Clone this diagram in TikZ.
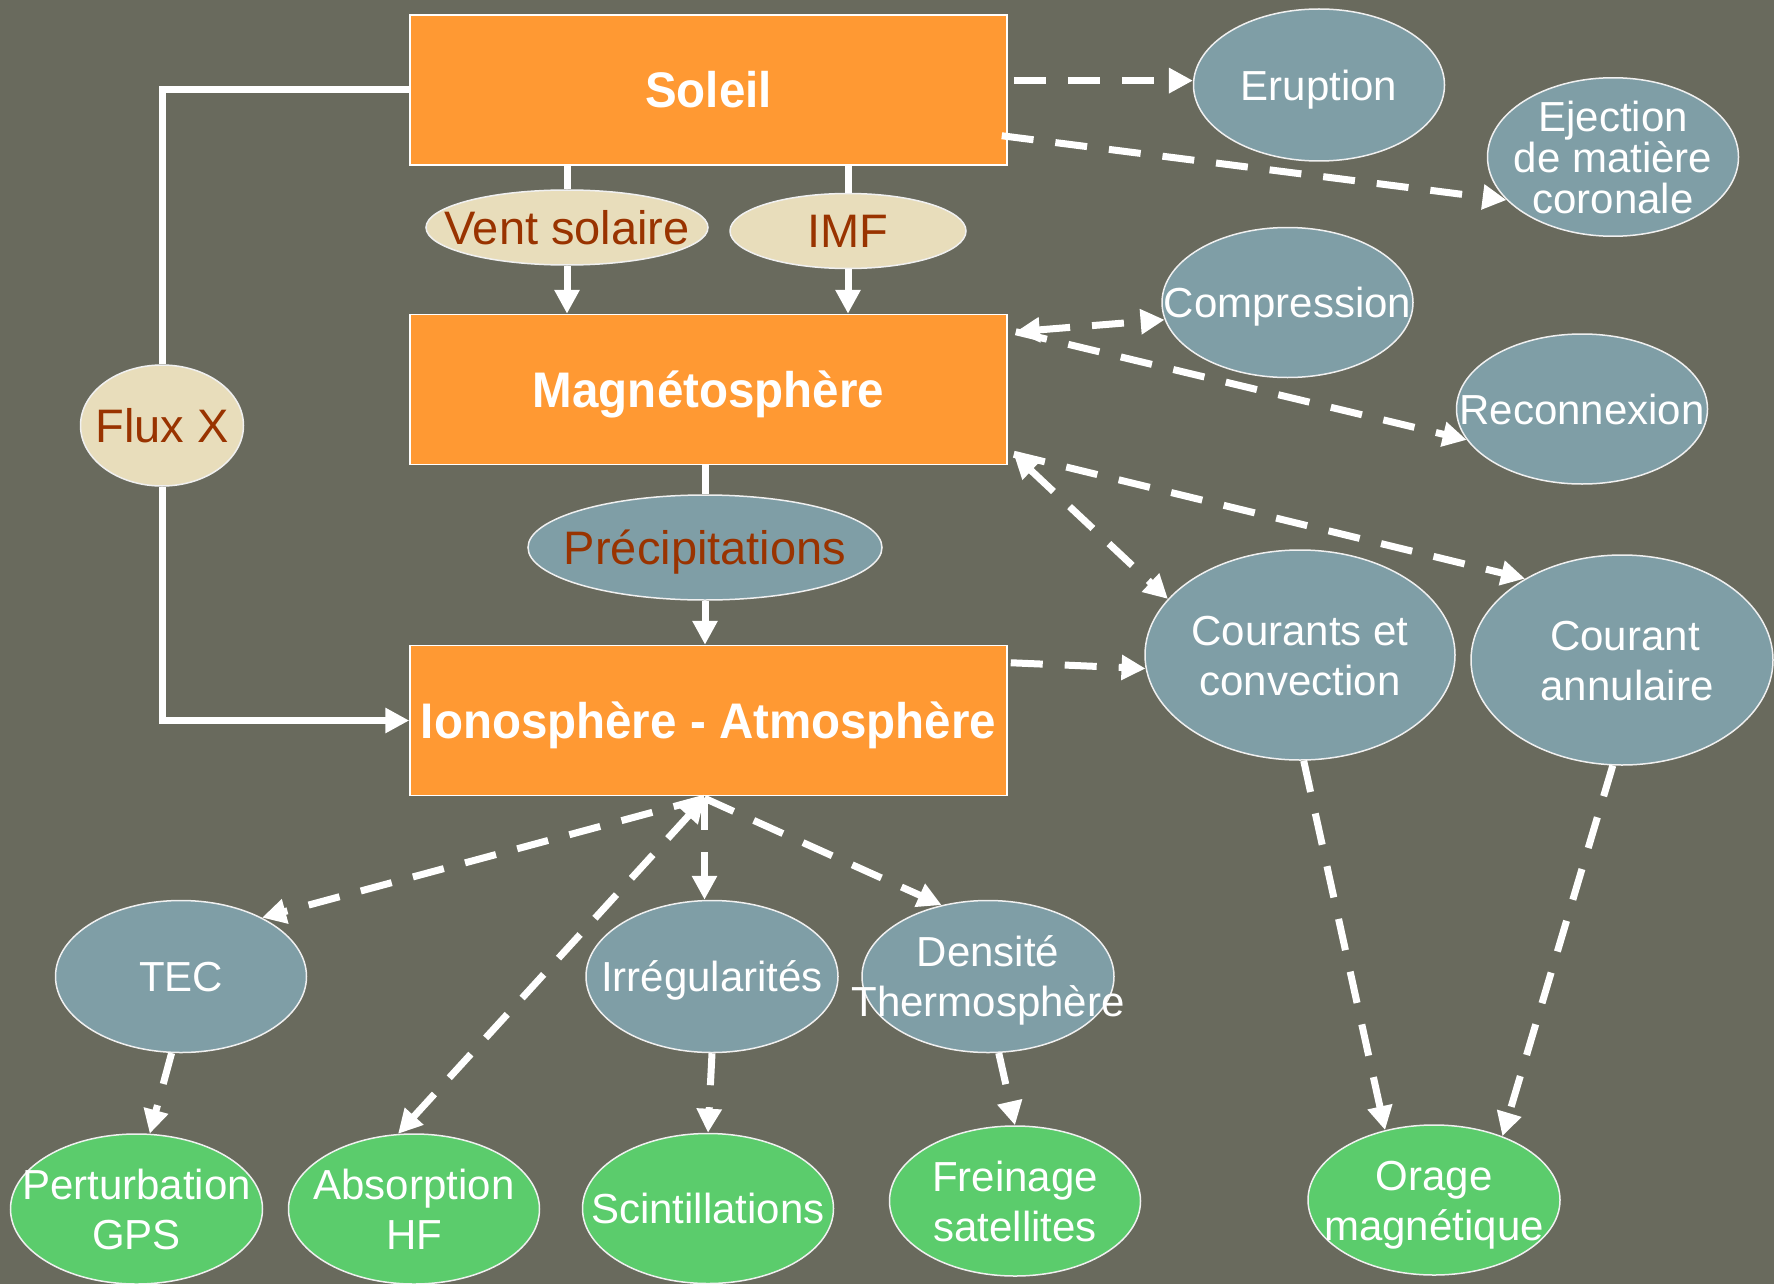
\documentclass[tikz,border=0pt]{standalone}
\usepackage{fontspec}
\usepackage{graphicx}
\setmainfont{Liberation Sans}
\usetikzlibrary{shapes.geometric,arrows.meta,calc}
\definecolor{bgc}{RGB}{105,106,93}
\definecolor{orgc}{RGB}{255,153,51}
\definecolor{tanc}{RGB}{232,221,187}
\definecolor{brownc}{RGB}{153,51,0}
\definecolor{bluec}{RGB}{127,158,166}
\definecolor{greenc}{RGB}{91,204,108}
\newcommand{\zb}[1]{\makebox[0pt]{\raisebox{0pt}[0.716em][0pt]{#1}}}
\newcommand{\sq}[1]{\scalebox{0.95}[1]{\raisebox{0pt}[0.716em][0pt]{#1}}}
\begin{document}
\begin{tikzpicture}[x=1pt,y=-1pt,
  >={Triangle[length=24pt,width=24pt]},
  box/.style={rectangle,draw=white,line width=1.5pt,fill=orgc,minimum width=597pt,minimum height=150pt,inner sep=0pt,text=white,font=\fontsize{50}{60}\selectfont\bfseries},
  ell/.style={ellipse,draw=white!88!gray,line width=1.5pt,inner sep=0pt,align=center},
  tanell/.style={ell,fill=tanc,text=brownc,font=\fontsize{47}{56}\selectfont},
  blueell/.style={ell,fill=bluec,text=white,font=\fontsize{42}{50}\selectfont},
  greenell/.style={ell,fill=greenc,text=white,font=\fontsize{42}{50}\selectfont},
  sz/.style 2 args={minimum width=#1pt,minimum height=#2pt},
  conn/.style={draw=white,line width=7pt},
  dconn/.style={conn,dash pattern=on 32pt off 22pt}
]
\fill[bgc] (0,0) rectangle (1774,1284);
\useasboundingbox (0,0) rectangle (1774,1284);

% main boxes
\node[box] (soleil) at (708.5,90) {\sq{Soleil}};
\node[box] (magneto) at (708.5,389.5) {\sq{Magnétosphère}};
\node[box] (iono) at (708.5,720.5) {\sq{Ionosphère - Atmosphère}};

% tan / brown-text ellipses
\node[tanell,sz={282}{75}] (vent) at (567,227.5) {\zb{Vent solaire}};
\node[tanell,sz={236}{75}] (imf) at (848,231) {\zb{IMF}};
\node[tanell,sz={163}{121}] (fluxx) at (162,425.5) {\zb{Flux X}};
\node[ell,fill=bluec,text=brownc,font=\fontsize{47}{56}\selectfont,sz={354}{105}] (precip) at (705,547.5) {\zb{Précipitations}};

% blue ellipses
\node[blueell,sz={251}{152}] (eruption) at (1319,85) {\zb{Eruption}};
\node[blueell,sz={251}{152},font=\fontsize{42}{41}\selectfont] (ejection) at (1613,157) {\zb{Ejection}\\\zb{de matière}\\\zb{coronale}};
\node[blueell,sz={251}{150}] (compression) at (1287.5,302.5) {\zb{Compression}};
\node[blueell,sz={251}{150}] (reconnexion) at (1582,409) {\zb{Reconnexion}};
\node[blueell,sz={310}{210}] (courants) at (1300,655) {\zb{Courants et}\\\zb{convection}};
\node[blueell,sz={302}{210}] (annulaire) at (1622,660) {\zb{\hspace{6pt}Courant}\\\zb{\hspace{10pt}annulaire}};
\node[blueell,sz={251}{152}] (tec) at (181,976.5) {\zb{TEC}};
\node[blueell,sz={252}{152}] (irreg) at (712,976.5) {\zb{Irrégularités}};
\node[blueell,sz={252}{152}] (dens) at (988,976.5) {\zb{Densité}\\\zb{Thermosphère}};

% green ellipses
\node[greenell,sz={252}{150}] (gps) at (136.5,1209) {\zb{Perturbation}\\\zb{GPS}};
\node[greenell,sz={251}{150}] (absorp) at (414,1209) {\zb{Absorption}\\\zb{HF}};
\node[greenell,sz={251}{150}] (scint) at (708,1208.5) {\zb{Scintillations}};
\node[greenell,sz={251}{150}] (frein) at (1015,1201) {\zb{Freinage}\\\zb{satellites}};
\node[greenell,sz={252}{150}] (orage) at (1434,1200) {\zb{Orage}\\\zb{magnétique}};

% solid connectors
\draw[conn] (soleil.west) -| (fluxx.north);
\draw[conn,->] (fluxx.south) |- (iono.west);
\draw[conn] (soleil.south -| vent.north) -- (vent.north);
\draw[conn,->] (vent.south) -- (vent.south |- magneto.north);
\draw[conn] (soleil.south -| imf.north) -- (imf.north);
\draw[conn,->] (imf.south) -- (imf.south |- magneto.north);
\draw[conn] (magneto.south -| precip.north) -- (precip.north);
\draw[conn,->] (precip.south) -- (precip.south |- iono.north);

% dashed connectors
\draw[dconn,->] ($(soleil.east |- eruption.178)+(6,0)$) -- (eruption.178);
\draw[dconn,->] ($(soleil.south east)+(-6,-30)$) -- (ejection.202);
\coordinate (mA) at ($(magneto.north east)+(8,18)$);
\draw[dconn,<->] (mA) -- (compression.188);
\draw[dconn,->] (mA) -- (reconnexion.195);
\coordinate (mB) at ($(magneto.south east)+(6,-11)$);
\draw[dconn,<->] (mB) -- (courants.157);
\draw[dconn,->] (mB) -- (annulaire.140);
\draw[dconn,->] ($(iono.north east)+(3,18)$) -- (courants.185);
\draw[dconn,->] (courants.272) -- (orage.125);
\draw[dconn,->] (annulaire.265) -- (orage.43);
\coordinate (iB) at ($(iono.south)+(-4,2)$);
\draw[dconn,->] (iB) -- (tec.36);
\draw[dconn,<->] (iB) -- (absorp.102);
\draw[dconn,->] (iB) -- (iB |- irreg.north);
\draw[dconn,->] (iB) -- (dens.123);
\draw[dconn,->] (tec.263) -- (gps.80);
\draw[dconn,->] (irreg.south) -- (scint.north);
\draw[dconn,->] (dens.278) -- (frein.north);
\end{tikzpicture}
\end{document}
